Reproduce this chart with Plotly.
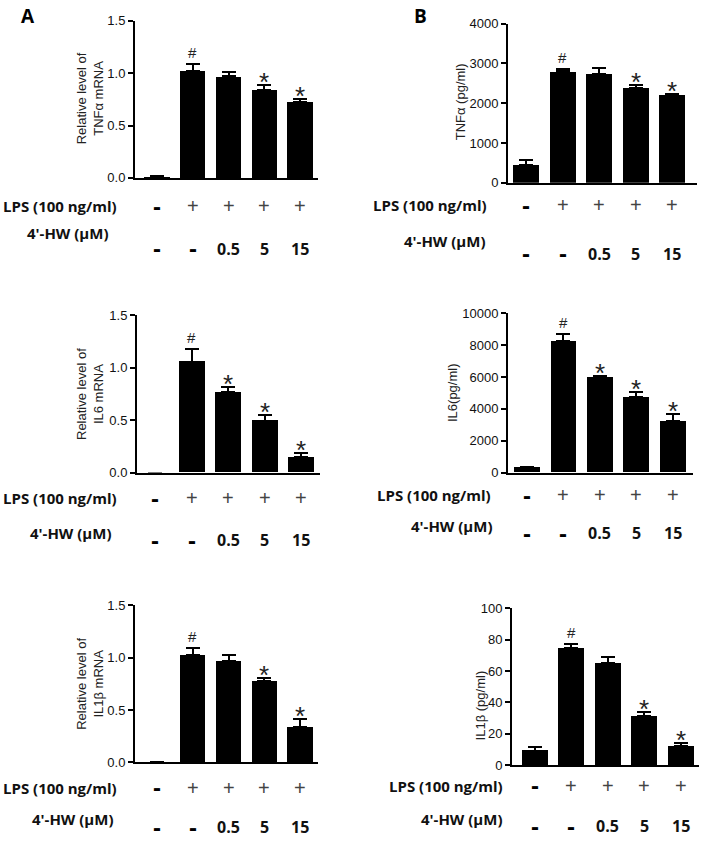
import plotly.graph_objects as go

W, H = 704, 845

# ---------------- data ----------------
categories = [0, 1, 2, 3, 4]
lps_labels = ["-", "+", "+", "+", "+"]
hw_labels = ["-", "-", "0.5", "5", "15"]

tnf_mrna = [0.01, 1.02, 0.97, 0.84, 0.725]
tnf_mrna_err = [0.005, 0.07, 0.045, 0.05, 0.025]
tnf_mrna_sig = ["", "#", "", "*", "*"]

il6_mrna = [0.0, 1.06, 0.766, 0.497, 0.147]
il6_mrna_err = [0.0, 0.12, 0.055, 0.056, 0.04]
il6_mrna_sig = ["", "#", "*", "*", "*"]

il1b_mrna = [0.0, 1.02, 0.966, 0.773, 0.337]
il1b_mrna_err = [0.0, 0.072, 0.063, 0.031, 0.077]
il1b_mrna_sig = ["", "#", "", "*", "*"]

tnf_pg = [450, 2805, 2740, 2395, 2205]
tnf_pg_err = [120, 45, 155, 55, 35]
tnf_pg_sig = ["", "#", "", "*", "*"]

il6_pg = [300, 8250, 5980, 4740, 3235]
il6_pg_err = [60, 490, 100, 310, 430]
il6_pg_sig = ["", "#", "*", "*", "*"]

il1b_pg = [9.4, 74.4, 65.0, 31.2, 12.5]
il1b_pg_err = [2.4, 2.7, 4.1, 2.9, 1.4]
il1b_pg_sig = ["", "#", "", "*", "*"]

y_titles = ["Relative level of<br>TNFα mRNA", "TNFα (pg/ml)",
            "Relative level of<br>IL6 mRNA", "IL6(pg/ml)",
            "Relative level of<br>IL1β mRNA", "IL1β (pg/ml)"]

# ---------------- layout geometry (pixels) ----------------
panels = [
    dict(v=tnf_mrna, e=tnf_mrna_err, s=tnf_mrna_sig, yr=[0, 1.5], dt=0.5, fmt=".1f",
         xpx=[135, 318], ypx=[14, 174], xr=[-0.615, 4.5], tt=(90, 93),
         lps=203, hwl=230, hwv=246, lpsx=60, hwx=67),
    dict(v=tnf_pg, e=tnf_pg_err, s=tnf_pg_sig, yr=[0, 4000], dt=1000, fmt="d",
         xpx=[508, 697], ypx=[17, 179], xr=[-0.5, 4.68], tt=(460, 97),
         lps=202, hwl=238, hwv=251, lpsx=430, hwx=444),
    dict(v=il6_mrna, e=il6_mrna_err, s=il6_mrna_sig, yr=[0, 1.5], dt=0.5, fmt=".1f",
         xpx=[137, 320], ypx=[314, 474], xr=[-0.5, 4.52], tt=(90, 394),
         lps=500, hwl=535, hwv=543, lpsx=60, hwx=70),
    dict(v=il6_pg, e=il6_pg_err, s=il6_pg_sig, yr=[0, 10000], dt=2000, fmt="d",
         xpx=[508, 693], ypx=[312, 474], xr=[-0.52, 4.55], tt=(452, 393),
         lps=497, hwl=528, hwv=536, lpsx=434, hwx=451),
    dict(v=il1b_mrna, e=il1b_mrna_err, s=il1b_mrna_sig, yr=[0, 1.5], dt=0.5, fmt=".1f",
         xpx=[135, 318], ypx=[609, 769], xr=[-0.615, 4.5], tt=(90, 689),
         lps=795, hwl=827, hwv=835, lpsx=60, hwx=72),
    dict(v=il1b_pg, e=il1b_pg_err, s=il1b_pg_sig, yr=[0, 100], dt=20, fmt="d",
         xpx=[512, 699], ypx=[612, 772], xr=[-0.62, 4.5], tt=(480, 711),
         lps=793, hwl=827, hwv=834, lpsx=446, hwx=461),
]


def px_x(p):
    return p / W


def px_y(p):
    return 1 - p / H


fig = go.Figure()
annotations = []
layout_axes = {}

LABEL_FONT = dict(family="Open Sans", size=15, color="#111", weight="bold")
VALUE_FONT = dict(family="Open Sans", size=16, color="#111", weight="bold")
DASH_FONT = dict(family="Liberation Sans", size=24, color="black", weight="bold")
PLUS_FONT = dict(family="Liberation Sans", size=20, color="#444")
TICK_FONT = dict(family="Liberation Sans", size=13, color="#111")

for i, p in enumerate(panels):
    n = i + 1
    xa = "x" if n == 1 else f"x{n}"
    ya = "y" if n == 1 else f"y{n}"
    xkey = "xaxis" if n == 1 else f"xaxis{n}"
    ykey = "yaxis" if n == 1 else f"yaxis{n}"

    fig.add_trace(go.Bar(
        x=categories, y=p["v"], xaxis=xa, yaxis=ya, width=0.71,
        marker=dict(color="black", line=dict(width=0)),
        error_y=dict(type="data", array=p["e"], arrayminus=[0] * 5, symmetric=False,
                     color="black", thickness=2, width=7),
        showlegend=False, hoverinfo="skip",
    ))

    layout_axes[xkey] = dict(
        domain=[px_x(p["xpx"][0]), px_x(p["xpx"][1])], range=p["xr"],
        anchor=ya, showticklabels=False, ticks="", showgrid=False, zeroline=False,
        showline=True, linecolor="black", linewidth=2, fixedrange=True,
    )
    layout_axes[ykey] = dict(
        domain=[px_y(p["ypx"][1]), px_y(p["ypx"][0])], range=p["yr"], dtick=p["dt"],
        tick0=0, tickformat=p["fmt"], anchor=xa, showgrid=False, zeroline=False,
        showline=True, linecolor="black", linewidth=2, ticks="outside", ticklen=5,
        tickwidth=1.5, tickcolor="black", tickfont=TICK_FONT, fixedrange=True,
    )

    # significance marks
    for c, (val, err, s) in enumerate(zip(p["v"], p["e"], p["s"])):
        if not s:
            continue
        if s == "#":
            font = dict(family="Liberation Sans", size=15, color="#222")
            shift = 1
        else:
            font = dict(family="Liberation Sans", size=26, color="#222")
            shift = -14
        annotations.append(dict(
            x=c, y=val + err, xref=xa, yref=ya, text=s, showarrow=False,
            yanchor="bottom", xanchor="center", yshift=shift, font=font,
        ))

    # y-axis title
    annotations.append(dict(
        x=px_x(p["tt"][0]), y=px_y(p["tt"][1]), xref="paper", yref="paper",
        text=y_titles[i], textangle=-90, showarrow=False, xanchor="center",
        yanchor="middle", font=dict(family="Liberation Sans", size=13, color="#222"),
    ))

    # treatment rows
    annotations.append(dict(
        x=px_x(p["lpsx"]), y=px_y(p["lps"]), xref="paper", yref="paper",
        text="LPS (100 ng/ml)", showarrow=False, xanchor="center", yanchor="middle",
        font=LABEL_FONT,
    ))
    annotations.append(dict(
        x=px_x(p["hwx"]), y=px_y(p["hwl"]), xref="paper", yref="paper",
        text="4'-HW (μM)", showarrow=False, xanchor="center", yanchor="middle",
        font=LABEL_FONT,
    ))
    for c in categories:
        lab = lps_labels[c]
        f = PLUS_FONT if lab == "+" else DASH_FONT
        annotations.append(dict(
            x=c, y=px_y(p["lps"]), xref=xa, yref="paper", text=lab, showarrow=False,
            xanchor="center", yanchor="middle", font=f,
        ))
        lab2 = hw_labels[c]
        f2 = DASH_FONT if lab2 == "-" else VALUE_FONT
        annotations.append(dict(
            x=c, y=px_y(p["hwv"]), xref=xa, yref="paper", text=lab2, showarrow=False,
            xanchor="center", yanchor="middle", font=f2,
        ))

# panel letters
annotations.append(dict(x=px_x(28), y=px_y(9), xref="paper", yref="paper", text="A",
                        showarrow=False, xanchor="center", yanchor="middle",
                        font=dict(family="Open Sans", size=19, color="black", weight="bold")))
annotations.append(dict(x=px_x(420), y=px_y(9), xref="paper", yref="paper", text="B",
                        showarrow=False, xanchor="center", yanchor="middle",
                        font=dict(family="Open Sans", size=19, color="black", weight="bold")))

fig.update_layout(
    width=W, height=H, margin=dict(l=0, r=0, t=0, b=0),
    paper_bgcolor="white", plot_bgcolor="white",
    annotations=annotations, bargap=0, **layout_axes,
)

fig.write_html("out.html", config={"displayModeBar": False},
               post_script="document.body.style.margin='0px';document.body.style.padding='0px';")
